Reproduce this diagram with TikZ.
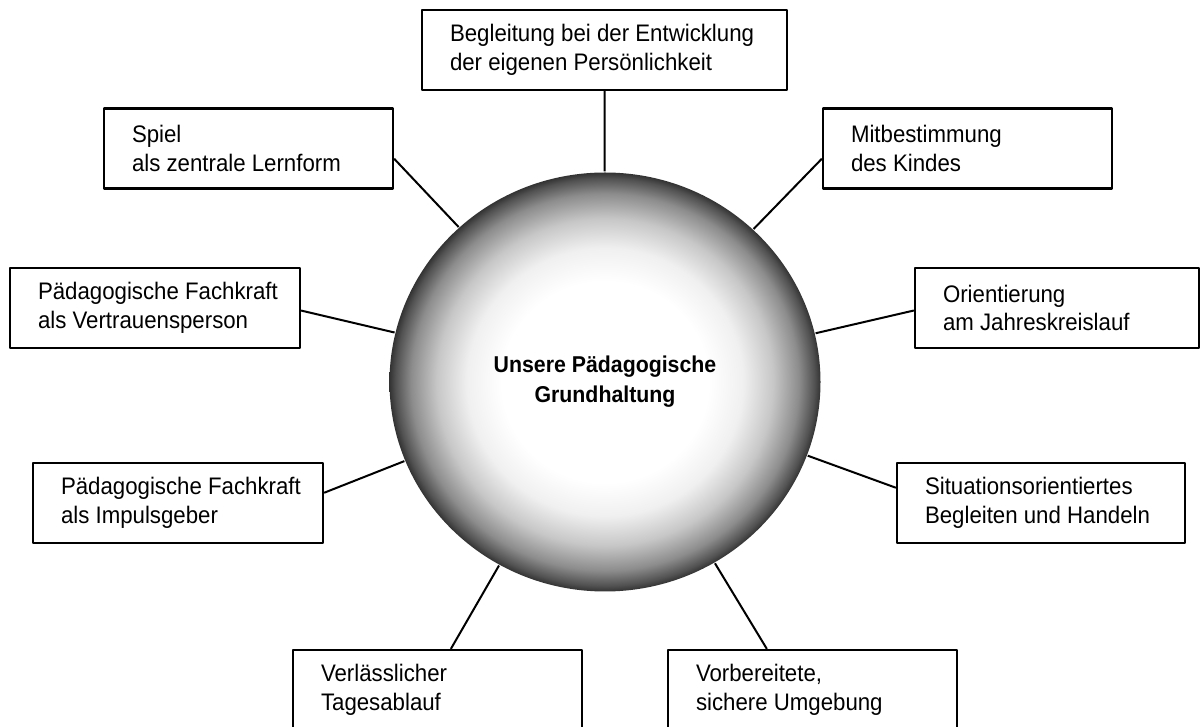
\documentclass[tikz,border=0pt]{standalone}
\usepackage{fontspec}
\setmainfont{Liberation Sans}[FakeStretch=0.93]
\usetikzlibrary{shapes.geometric}
\pgfdeclareradialshading{kugel}{\pgfpoint{0bp}{0bp}}{%
  color(0bp)=(white); color(12bp)=(white); color(16bp)=(black!6);
  color(19.5bp)=(black!22); color(22.5bp)=(black!45); color(24.3bp)=(black!68);
  color(25bp)=(black!80); color(50bp)=(black!80)}
\begin{document}
\begin{tikzpicture}[line join=bevel,
  kasten/.style={draw, rectangle, line width=1.1bp, minimum height=40bp,
    inner xsep=14bp, inner ysep=0bp, align=flush left, text width=#1,
    font=\fontsize{12}{14.5}\selectfont},
  kugelknoten/.style={ellipse, shading=kugel, inner sep=0bp,
    minimum width=215.5bp, minimum height=209.5bp, align=center,
    font=\fontsize{11.5}{15}\selectfont\bfseries},
  verbindung/.style={draw, line width=1bp}]
  \pgfsetlinewidth{1bp}
\useasboundingbox (0bp,0bp) rectangle (600bp,363.5bp);
%%
\pgfsetcolor{black}
  % Node: kreis
  \node[kugelknoten] (kreis) at (302.5bp,172.5bp) {Unsere Pädagogische\\Grundhaltung};
  % Node: entw
  \node[kasten=154.5bp] (entw) at (302.25bp,338.5bp) {\mbox{Begleitung bei der Entwicklung}\\der eigenen Persönlichkeit};
  % Node: spiel
  \node[kasten=116.5bp] (spiel) at (124.25bp,289.25bp) {Spiel\\als zentrale Lernform};
  % Node: mitb
  \node[kasten=116.5bp] (mitb) at (483.75bp,289.25bp) {Mitbestimmung\\des Kindes};
  % Node: vertr
  \node[kasten=117bp] (vertr) at (77.5bp,209.5bp) {\mbox{Pädagogische Fachkraft}\\als Vertrauensperson};
  % Node: orient
  \node[kasten=114bp] (orient) at (528.5bp,209.5bp) {Orientierung\\am Jahreskreislauf};
  % Node: impuls
  \node[kasten=117bp] (impuls) at (89bp,112bp) {\mbox{Pädagogische Fachkraft}\\als Impulsgeber};
  % Node: situ
  \node[kasten=116bp] (situ) at (520.5bp,112bp) {Situationsorientiertes\\Begleiten und Handeln};
  % Node: verl
  \node[kasten=116.5bp] (verl) at (218.75bp,18.5bp) {Verlässlicher\\Tagesablauf};
  % Node: vorb
  \node[kasten=116.5bp] (vorb) at (406.25bp,18.5bp) {Vorbereitete,\\sichere Umgebung};
%
  % Edge: entw -> kreis
  \draw[verbindung] (entw.south) -- (kreis);
  % Edge: spiel -> kreis
  \draw[verbindung] (spiel.-4) -- (kreis);
  % Edge: mitb -> kreis
  \draw[verbindung] (mitb.184.5) -- (kreis);
  % Edge: vertr -> kreis
  \draw[verbindung] (vertr.-1.6) -- (kreis);
  % Edge: orient -> kreis
  \draw[verbindung] (orient.181.6) -- (kreis);
  % Edge: impuls -> kreis
  \draw[verbindung] (impuls.4.3) -- (kreis);
  % Edge: situ -> kreis
  \draw[verbindung] (situ.174.8) -- (kreis);
  % Edge: verl -> kreis
  \draw[verbindung] (verl.72.6) -- (kreis);
  % Edge: vorb -> kreis
  \draw[verbindung] (vorb.138.7) -- (kreis);
%
\end{tikzpicture}
\end{document}
